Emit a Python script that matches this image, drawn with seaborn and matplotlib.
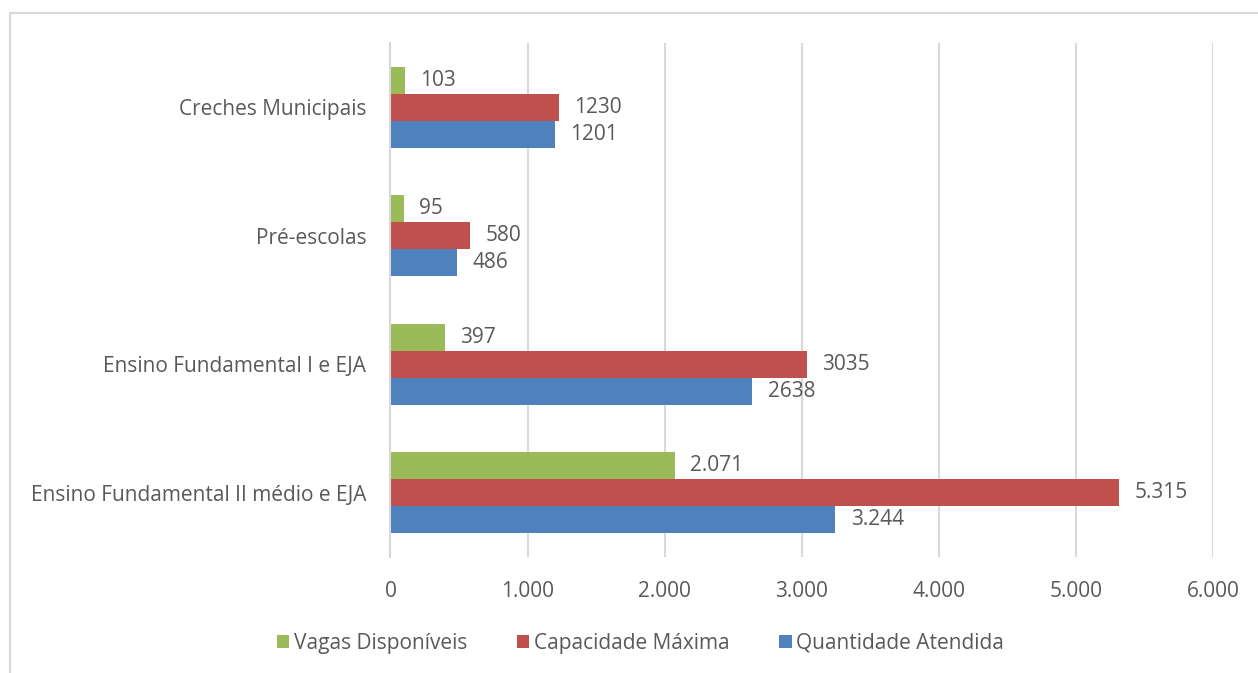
import matplotlib
matplotlib.use("Agg")
import matplotlib.pyplot as plt
from matplotlib.patches import Rectangle
from matplotlib.ticker import FuncFormatter
import pandas as pd
import seaborn as sns

# Dados de vagas por etapa de ensino
categorias = ["Creches Municipais", "Pré-escolas", "Ensino Fundamental I e EJA",
              "Ensino Fundamental II médio e EJA"]
series = ["Vagas Disponíveis", "Capacidade Máxima", "Quantidade Atendida"]
vagas_disponiveis = [103, 95, 397, 2071]
capacidade_maxima = [1230, 580, 3035, 5315]
quantidade_atendida = [1201, 486, 2638, 3244]
rotulos_vagas = ["103", "95", "397", "2.071"]
rotulos_capacidade = ["1230", "580", "3035", "5.315"]
rotulos_quantidade = ["1201", "486", "2638", "3.244"]
ticks_x = [0, 1000, 2000, 3000, 4000, 5000, 6000]

cores = {"Vagas Disponíveis": "#9BBB59",
         "Capacidade Máxima": "#C0504D",
         "Quantidade Atendida": "#4F81BD"}
texto = "#595959"
cinza = "#D9D9D9"
fs = 15

df = pd.DataFrame({
    "categoria": categorias * 3,
    "serie": [s for s in series for _ in categorias],
    "valor": vagas_disponiveis + capacidade_maxima + quantidade_atendida,
})

sns.set_theme(style="white")
plt.rcParams["font.family"] = ["Open Sans", "DejaVu Sans"]

fig = plt.figure(figsize=(12.58, 6.73), dpi=100)
ax = fig.add_axes([0.3104, 0.1724, 0.6541, 0.7636])

sns.barplot(data=df, y="categoria", x="valor", hue="serie", order=categorias,
            hue_order=series, palette=cores, orient="h", width=0.629,
            saturation=1, linewidth=0, ax=ax)

rotulos = [rotulos_vagas, rotulos_capacidade, rotulos_quantidade]
for cont, labs in zip(ax.containers, rotulos):
    ax.bar_label(cont, labels=labs, padding=11, fontsize=fs, color=texto)

ax.set_xlim(0, 6000)
ax.set_ylim(3.5, -0.5)
ax.set_xticks(ticks_x)
ax.xaxis.set_major_formatter(FuncFormatter(lambda v, p: f"{int(v):,}".replace(",", ".")))
ax.grid(axis="x", color=cinza, linewidth=1.5)
ax.grid(axis="y", visible=False)
ax.set_axisbelow(True)
for s in ["top", "right", "bottom"]:
    ax.spines[s].set_visible(False)
ax.spines["left"].set_color(cinza)
ax.spines["left"].set_linewidth(1.5)
ax.set_xlabel("")
ax.set_ylabel("")
ax.tick_params(axis="x", length=0, pad=17, labelsize=fs, labelcolor=texto)
ax.tick_params(axis="y", length=0, pad=17.5, labelsize=fs, labelcolor=texto)

handles, labels = ax.get_legend_handles_labels()
if ax.legend_:
    ax.legend_.remove()
fig.legend(handles, labels, loc="center", bbox_to_anchor=(0.509, 0.044), ncol=3,
           frameon=False, fontsize=fs, labelcolor=texto, handlelength=0.6,
           handleheight=0.6, handletextpad=0.2, columnspacing=2.4)

fig.patches.append(Rectangle((10 / 1258, -0.1), 1.2, 0.1 + 1 - 13 / 673,
                             transform=fig.transFigure, fill=False,
                             edgecolor=cinza, linewidth=1.5))

fig.savefig("out.png", dpi=100)
